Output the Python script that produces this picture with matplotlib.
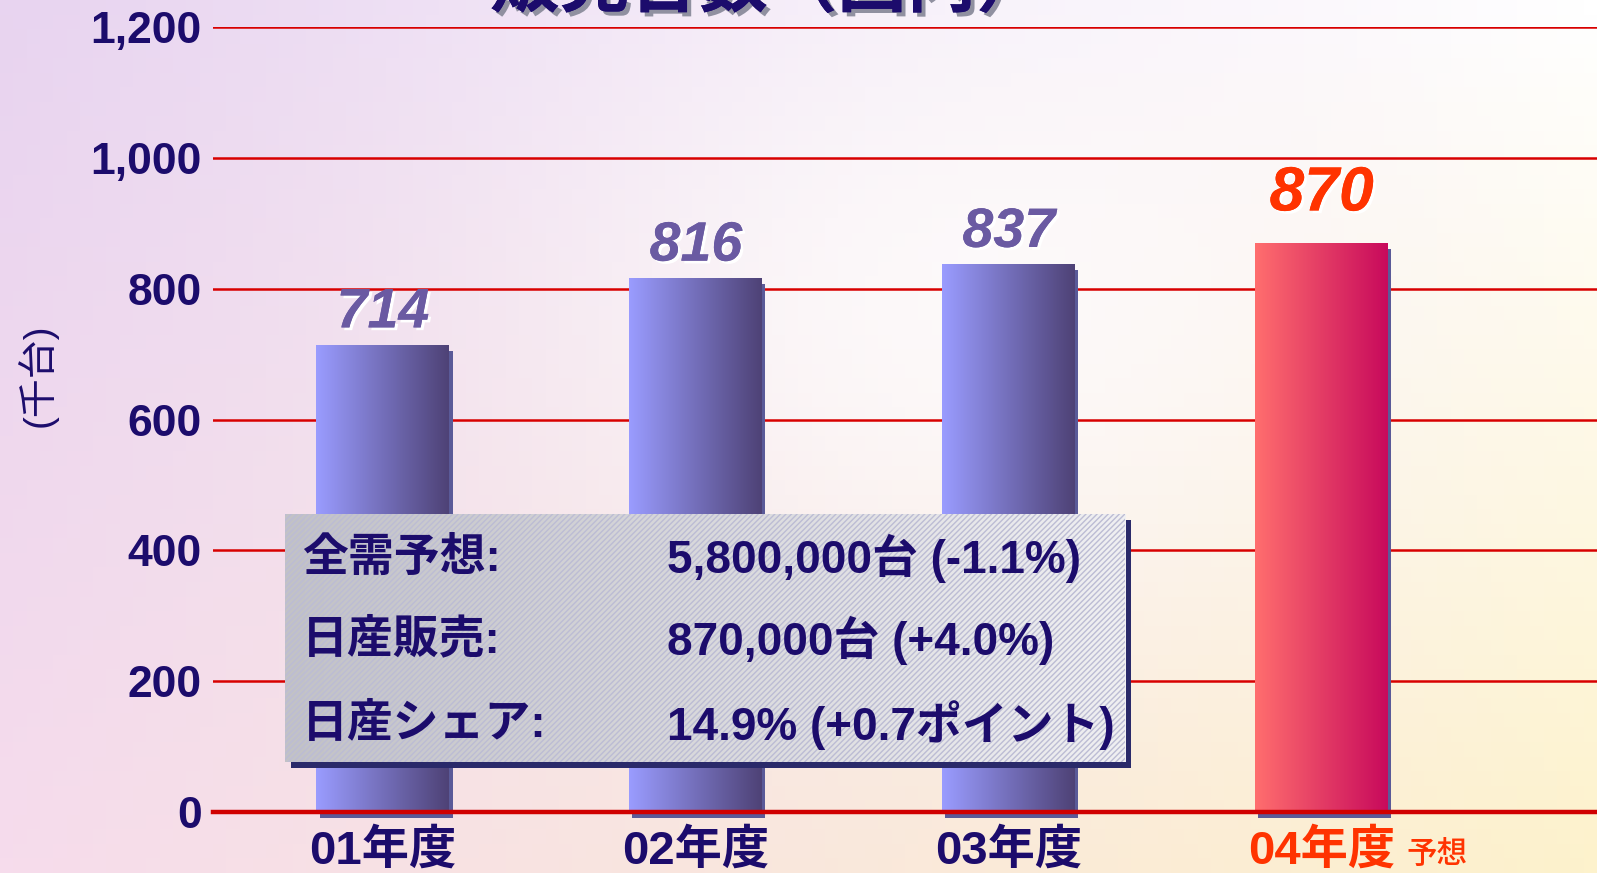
import numpy as np
import matplotlib
matplotlib.use("Agg")
import matplotlib.pyplot as plt
from matplotlib.patches import Rectangle
import matplotlib.patheffects as pe
from matplotlib.colors import to_rgb

# data
years = ["01年度", "02年度", "03年度", "04年度"]
sales = [714, 816, 837, 870]
yticks = [0, 200, 400, 600, 800, 1000, 1200]
info_left = ["全需予想:", "日産販売:", "日産シェア:"]
info_right = ["5,800,000台 (-1.1%)", "870,000台 (+4.0%)", "14.9% (+0.7ポイント)"]

NAVY = "#1c0c6c"
RED = "#ff3300"
FAM = ["Liberation Sans", "Noto Sans CJK JP"]
plt.rcParams["font.family"] = FAM


def hgrad(c1, c2, n=256):
    a, b = np.array(to_rgb(c1)), np.array(to_rgb(c2))
    t = np.linspace(0, 1, n)[None, :, None]
    return a + (b - a) * t


fig = plt.figure(figsize=(15.97, 8.73), dpi=100)

# pale background
bg = fig.add_axes([0, 0, 1, 1], zorder=-10)
ny, nx = 60, 120
yy, xx = np.mgrid[0:1:ny * 1j, 0:1:nx * 1j]
tl, tr = np.array(to_rgb("#e8d4f0")), np.array(to_rgb("#ffffff"))
bl, br = np.array(to_rgb("#f6dcec")), np.array(to_rgb("#fdf2cc"))
img = (tl * ((1 - xx) * (1 - yy))[..., None] + tr * (xx * (1 - yy))[..., None]
       + bl * ((1 - xx) * yy)[..., None] + br * (xx * yy)[..., None])
white = np.exp(-((xx - 0.6) ** 2 / 0.06 + (yy - 0.35) ** 2 / 0.12))[..., None]
img = img * (1 - 0.7 * white) + 0.7 * white
bg.imshow(np.clip(img, 0, 1), aspect="auto", extent=[0, 1, 0, 1], origin="upper")
bg.axis("off")

ax = fig.add_axes([0.1334, 0.0699, 0.8666, 0.8991])
ax.patch.set_alpha(0)
x = np.arange(len(years))
w = 0.425
ax.set_xlim(-0.543, 3.88)
ax.set_ylim(0, 1200)

for yv in yticks[1:]:
    ax.axhline(yv, color="#d80000", lw=1.8, zorder=1)

# shadows
ax.bar(x + 0.01, sales, w, bottom=-9, color="#5a5a98", zorder=2, clip_on=False)
bars = ax.bar(x, sales, w, color="none", zorder=3)
for i, b in enumerate(bars):
    if i < 3:
        g = hgrad("#9a9cff", "#4e4276")
    else:
        g = hgrad("#ff6e6e", "#c80a5c")
    x0, y0 = b.get_x(), b.get_y()
    im = ax.imshow(g, extent=[x0, x0 + b.get_width(), y0, y0 + b.get_height()],
                   aspect="auto", zorder=3)
    im.set_clip_path(b)

ax.axhline(0, color="#d00000", lw=3.2, zorder=4, clip_on=False)

for i, v in enumerate(sales):
    last = i == 3
    ax.annotate(str(v), (x[i], v), xytext=(0, 14 if last else 4),
                textcoords="offset points",
                ha="center", va="bottom", fontsize=45 if last else 40,
                fontweight="bold", fontstyle="italic",
                color=RED if last else "#6a5aa2",
                path_effects=[pe.withSimplePatchShadow(offset=(2, -2),
                                                       shadow_rgbFace="white", alpha=1),
                              pe.Normal()])

ax.set_yticks(yticks)
ax.set_yticklabels([f"{v:,}" for v in yticks], fontsize=32, fontweight="bold",
                   color=NAVY)
ax.set_xticks(x)
ax.set_xticklabels(years, fontsize=34, fontweight="bold", color=NAVY)
ax.get_xticklabels()[3].set_color(RED)
ax.tick_params(length=0)
ax.tick_params(axis="y", pad=8)
ax.tick_params(axis="x", pad=12)
for s in ax.spines.values():
    s.set_visible(False)

fig.text(0.9, 0.012, "予想", fontsize=22, color=RED, ha="center",
         va="baseline", fontweight="medium")
fig.text(0.023, 0.57, "(千台)", rotation=90, fontsize=28, color=NAVY,
         ha="center", va="center")

# title, cut off by the top edge as in the slide
fig.text(0.481, 0.993, "販売台数（国内）", fontsize=50, fontweight="bold",
         color=NAVY, ha="center", va="baseline",
         path_effects=[pe.withSimplePatchShadow(offset=(3, -3),
                                                shadow_rgbFace="#9090a0", alpha=1),
                       pe.Normal()])

# info box
bx, by, bw, bh = 0.1785, 0.1271, 0.526, 0.2841
fig.patches.append(Rectangle((bx + 0.004, by - 0.007), bw, bh, transform=fig.transFigure,
                             facecolor="#2a2a6a", edgecolor="none", zorder=5))
box = fig.add_axes([bx, by, bw, bh], zorder=6)
box.imshow(hgrad("#c2c2c6", "#f0f0f2"), aspect="auto", extent=[0, 1, 0, 1])
box.add_patch(Rectangle((0, 0), 1, 1, facecolor="none", edgecolor="#bcbcd4",
                        hatch="//////", lw=0))
box.set_xlim(0, 1)
box.set_ylim(0, 1)
box.axis("off")
rows_y = [0.82, 0.49, 0.15]
for yv, l, r in zip(rows_y, info_left, info_right):
    box.text(0.02, yv, l, fontsize=33, fontweight="bold", color=NAVY, va="center")
    box.text(0.455, yv, r, fontsize=33, fontweight="bold", color=NAVY, va="center")

fig.savefig("out.png", dpi=100)
